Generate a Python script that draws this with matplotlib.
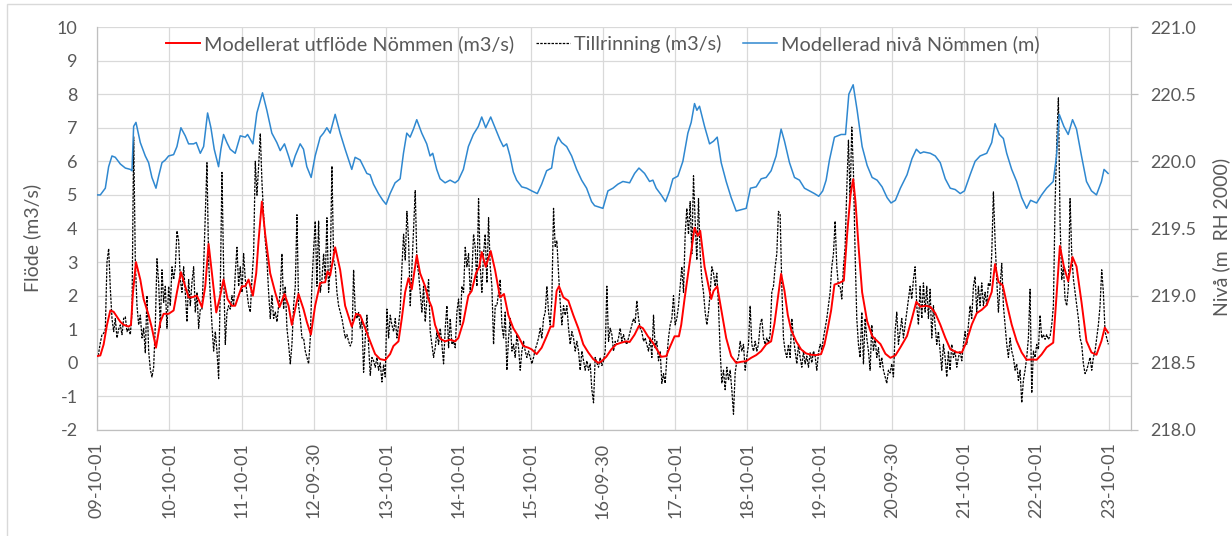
import numpy as np
import matplotlib
matplotlib.use('Agg')
import matplotlib.pyplot as plt
from matplotlib.patches import Rectangle

plt.rcParams['font.family'] = ['Lato', 'DejaVu Sans']
plt.rcParams['axes.unicode_minus'] = False

# x-axis labels (one per year, Excel style yy-mm-dd)
tick_labels = ['09-10-01', '10-10-01', '11-10-01', '12-09-30', '13-10-01',
               '14-10-01', '15-10-01', '16-09-30', '17-10-01', '18-10-01',
               '19-10-01', '20-09-30', '21-10-01', '22-10-01', '23-10-01']
start = np.datetime64('2009-10-01')

# Modellerad nivå Nömmen (m RH 2000), time in years after 2009-10-01
niva_t = [0.000, 0.046, 0.115, 0.161, 0.207, 0.253, 0.323, 0.392, 0.461, 0.484,
          0.507, 0.539, 0.599, 0.668, 0.714, 0.760, 0.816, 0.853, 0.899, 0.945,
          0.991, 1.060, 1.106, 1.161, 1.221, 1.267, 1.336, 1.373, 1.429, 1.475,
          1.530, 1.576, 1.622, 1.682, 1.714, 1.751, 1.797, 1.843, 1.912, 1.982,
          2.051, 2.083, 2.157, 2.212, 2.290, 2.350, 2.419, 2.488, 2.535, 2.594,
          2.650, 2.696, 2.742, 2.811, 2.857, 2.903, 2.963, 3.018, 3.088, 3.134,
          3.180, 3.226, 3.295, 3.364, 3.433, 3.525, 3.571, 3.641, 3.687, 3.733,
          3.779, 3.825, 3.894, 3.954, 4.000, 4.055, 4.124, 4.194, 4.240, 4.286,
          4.332, 4.378, 4.424, 4.493, 4.562, 4.608, 4.645, 4.700, 4.747, 4.816,
          4.885, 4.954, 5.000, 5.069, 5.138, 5.207, 5.276, 5.323, 5.378, 5.447,
          5.507, 5.576, 5.622, 5.668, 5.714, 5.760, 5.806, 5.876, 5.945, 6.014,
          6.092, 6.152, 6.221, 6.290, 6.336, 6.382, 6.429, 6.498, 6.567, 6.636,
          6.705, 6.774, 6.843, 6.885, 7.000, 7.069, 7.138, 7.207, 7.276, 7.369,
          7.438, 7.498, 7.576, 7.645, 7.691, 7.737, 7.806, 7.866, 7.922, 7.968,
          8.037, 8.106, 8.175, 8.221, 8.267, 8.300, 8.336, 8.406, 8.475, 8.530,
          8.581, 8.636, 8.705, 8.774, 8.843, 8.912, 8.982, 9.041, 9.120, 9.189,
          9.258, 9.327, 9.396, 9.465, 9.512, 9.581, 9.650, 9.719, 9.788, 9.857,
          9.926, 9.986, 10.041, 10.088, 10.134, 10.203, 10.295, 10.356, 10.402, 10.462,
          10.517, 10.586, 10.655, 10.724, 10.793, 10.862, 10.931, 10.986, 11.046, 11.115,
          11.207, 11.276, 11.336, 11.391, 11.437, 11.529, 11.598, 11.667, 11.736, 11.805,
          11.874, 11.943, 12.002, 12.080, 12.149, 12.218, 12.310, 12.379, 12.425, 12.485,
          12.540, 12.586, 12.655, 12.724, 12.793, 12.862, 12.917, 13.000, 13.069, 13.138,
          13.230, 13.276, 13.313, 13.377, 13.437, 13.497, 13.552, 13.621, 13.690, 13.759,
          13.828, 13.897, 13.933, 13.989]
niva = [219.75, 219.75, 219.80, 219.96, 220.04, 220.03, 219.98, 219.95, 219.94, 219.93,
        220.26, 220.29, 220.14, 220.04, 219.99, 219.88, 219.80, 219.89, 219.99, 220.01,
        220.04, 220.05, 220.11, 220.25, 220.19, 220.13, 220.13, 220.14, 220.06, 220.11,
        220.36, 220.25, 220.09, 219.96, 220.09, 220.20, 220.14, 220.09, 220.06, 220.19,
        220.18, 220.20, 220.13, 220.36, 220.51, 220.38, 220.21, 220.14, 220.08, 220.13,
        220.04, 219.96, 220.04, 220.13, 220.09, 219.96, 219.88, 220.04, 220.18, 220.21,
        220.25, 220.21, 220.35, 220.21, 220.09, 219.94, 220.03, 220.01, 219.96, 219.91,
        219.90, 219.83, 219.76, 219.71, 219.68, 219.76, 219.84, 219.87, 220.06, 220.21,
        220.18, 220.24, 220.31, 220.21, 220.13, 220.04, 220.06, 219.94, 219.87, 219.84,
        219.86, 219.84, 219.86, 219.94, 220.11, 220.20, 220.26, 220.33, 220.25, 220.33,
        220.25, 220.16, 220.11, 220.13, 220.04, 219.92, 219.86, 219.81, 219.80, 219.78,
        219.76, 219.83, 219.93, 219.95, 220.11, 220.18, 220.14, 220.11, 220.04, 219.94,
        219.86, 219.80, 219.70, 219.67, 219.65, 219.78, 219.80, 219.83, 219.85, 219.84,
        219.91, 219.95, 219.91, 219.85, 219.86, 219.80, 219.75, 219.70, 219.78, 219.87,
        219.89, 220.00, 220.21, 220.29, 220.43, 220.38, 220.41, 220.26, 220.13, 220.15,
        220.18, 219.99, 219.85, 219.73, 219.63, 219.64, 219.65, 219.80, 219.81, 219.87,
        219.88, 219.93, 220.04, 220.24, 220.15, 219.99, 219.88, 219.86, 219.80, 219.78,
        219.76, 219.74, 219.78, 219.86, 220.01, 220.18, 220.20, 220.20, 220.50, 220.57,
        220.38, 220.11, 219.97, 219.88, 219.86, 219.81, 219.73, 219.69, 219.71, 219.80,
        219.90, 220.02, 220.09, 220.06, 220.07, 220.06, 220.04, 219.99, 219.87, 219.80,
        219.79, 219.76, 219.78, 219.90, 220.00, 220.04, 220.06, 220.14, 220.28, 220.20,
        220.17, 220.06, 219.94, 219.85, 219.73, 219.65, 219.71, 219.69, 219.75, 219.80,
        219.85, 220.04, 220.35, 220.26, 220.20, 220.31, 220.24, 220.04, 219.85, 219.78,
        219.75, 219.85, 219.94, 219.91]

# Modellerat utflöde Nömmen (m3/s), time in years after 2009-10-01
utflode_t = [0.000, 0.046, 0.092, 0.138, 0.184, 0.230, 0.276, 0.323, 0.369, 0.438,
             0.470, 0.498, 0.539, 0.599, 0.645, 0.714, 0.760, 0.816, 0.876, 0.922,
             0.991, 1.060, 1.106, 1.161, 1.221, 1.267, 1.313, 1.382, 1.452, 1.498,
             1.544, 1.590, 1.650, 1.705, 1.751, 1.806, 1.866, 1.912, 1.959, 2.005,
             2.051, 2.097, 2.157, 2.203, 2.235, 2.281, 2.327, 2.396, 2.465, 2.525,
             2.594, 2.650, 2.696, 2.742, 2.788, 2.857, 2.903, 2.959, 3.018, 3.088,
             3.157, 3.189, 3.226, 3.295, 3.364, 3.433, 3.525, 3.585, 3.641, 3.710,
             3.779, 3.848, 3.917, 3.986, 4.055, 4.101, 4.171, 4.217, 4.263, 4.309,
             4.355, 4.424, 4.470, 4.539, 4.585, 4.631, 4.677, 4.747, 4.816, 4.885,
             4.954, 5.000, 5.069, 5.138, 5.184, 5.244, 5.290, 5.323, 5.378, 5.447,
             5.507, 5.576, 5.631, 5.691, 5.760, 5.829, 5.899, 5.968, 6.014, 6.083,
             6.152, 6.221, 6.276, 6.313, 6.359, 6.392, 6.452, 6.521, 6.590, 6.659,
             6.728, 6.797, 6.866, 6.935, 6.977, 7.046, 7.115, 7.184, 7.253, 7.323,
             7.369, 7.438, 7.498, 7.553, 7.622, 7.691, 7.760, 7.806, 7.876, 7.922,
             7.991, 8.051, 8.083, 8.129, 8.198, 8.267, 8.313, 8.346, 8.406, 8.465,
             8.498, 8.530, 8.581, 8.636, 8.705, 8.774, 8.843, 8.912, 8.982, 9.051,
             9.120, 9.189, 9.258, 9.327, 9.373, 9.419, 9.465, 9.512, 9.558, 9.604,
             9.673, 9.742, 9.811, 9.880, 9.949, 10.018, 10.065, 10.111, 10.157, 10.203,
             10.272, 10.333, 10.379, 10.425, 10.462, 10.494, 10.540, 10.586, 10.655, 10.724,
             10.770, 10.839, 10.908, 10.977, 11.046, 11.115, 11.207, 11.276, 11.336, 11.391,
             11.460, 11.529, 11.598, 11.667, 11.736, 11.805, 11.897, 11.966, 12.025, 12.103,
             12.172, 12.241, 12.310, 12.379, 12.425, 12.471, 12.531, 12.586, 12.655, 12.724,
             12.793, 12.862, 12.931, 13.000, 13.069, 13.138, 13.230, 13.276, 13.322, 13.377,
             13.437, 13.497, 13.552, 13.621, 13.690, 13.759, 13.828, 13.897, 13.943, 13.989]
utflode = [0.20, 0.22, 0.55, 1.13, 1.56, 1.52, 1.37, 1.22, 1.13, 1.08,
           1.13, 2.10, 3.00, 2.48, 1.90, 1.42, 1.03, 0.45, 1.22, 1.46,
           1.46, 1.56, 2.10, 2.70, 2.28, 1.95, 1.95, 2.00, 1.66, 2.28,
           3.54, 2.67, 1.50, 2.00, 2.48, 1.90, 1.70, 1.70, 2.00, 2.28,
           2.28, 2.48, 2.00, 2.67, 3.63, 4.80, 3.83, 2.67, 2.10, 1.66,
           2.05, 1.70, 1.13, 1.60, 2.05, 1.60, 1.22, 0.84, 1.70, 2.38,
           2.40, 2.72, 2.60, 3.44, 2.77, 1.70, 1.08, 1.46, 1.42, 1.03,
           0.64, 0.26, 0.11, 0.08, 0.26, 0.50, 0.64, 1.32, 2.10, 2.52,
           2.19, 3.20, 2.67, 2.28, 1.90, 1.66, 1.13, 0.72, 0.64, 0.69,
           0.64, 0.74, 1.22, 2.00, 2.14, 2.67, 2.86, 3.30, 2.86, 3.33,
           2.77, 1.95, 2.05, 1.42, 1.03, 0.79, 0.50, 0.45, 0.40, 0.26,
           0.45, 0.79, 1.08, 1.08, 2.14, 2.28, 1.95, 1.85, 1.42, 1.03,
           0.55, 0.31, 0.11, 0.00, 0.04, 0.18, 0.40, 0.55, 0.60, 0.64,
           0.62, 0.84, 1.10, 1.03, 0.79, 0.60, 0.35, 0.18, 0.20, 0.45,
           0.79, 0.79, 1.13, 1.90, 2.96, 4.02, 3.78, 3.93, 2.86, 2.24,
           1.90, 2.14, 2.28, 1.60, 0.74, 0.20, 0.00, 0.03, 0.05, 0.15,
           0.23, 0.35, 0.55, 0.64, 1.17, 1.90, 2.65, 2.14, 1.42, 0.98,
           0.64, 0.40, 0.28, 0.24, 0.23, 0.26, 0.55, 1.03, 1.56, 2.33,
           2.38, 2.45, 3.84, 5.00, 5.47, 4.80, 3.36, 2.10, 1.24, 0.80,
           0.70, 0.56, 0.27, 0.15, 0.22, 0.46, 0.80, 1.33, 1.82, 1.67,
           1.70, 1.67, 1.48, 1.14, 0.75, 0.41, 0.31, 0.31, 0.60, 1.14,
           1.48, 1.58, 1.72, 2.11, 2.94, 2.41, 2.31, 1.77, 1.14, 0.65,
           0.31, 0.09, 0.10, 0.09, 0.25, 0.46, 0.60, 2.01, 3.48, 2.87,
           2.43, 3.15, 2.87, 1.81, 0.65, 0.31, 0.24, 0.65, 1.05, 0.90]

# Tillrinning (m3/s), read every ~8.4 days from 2009-10-01
tillrinning_step_days = 8.42
tillrinning = [
    # 2009-10 .. 2013-05
    0.11, 0.30, 0.60, 0.84, 0.88, 1.00, 3.00, 3.40, 2.20, 1.32,
    0.93, 1.32, 0.74, 1.00, 1.13, 0.84, 1.32, 1.37, 0.93, 1.03,
    0.84, 1.50, 6.73, 3.00, 1.70, 1.13, 1.42, 0.74, 1.03, 0.30,
    2.00, 0.35, -0.20, -0.42, -0.13, 1.13, 3.10, 2.38, 1.03, 2.77,
    1.80, 2.28, 1.03, 2.28, 1.70, 2.86, 2.48, 2.86, 3.93, 3.64,
    2.48, 2.10, 2.86, 2.10, 1.22, 2.48, 1.70, 2.40, 2.86, 1.51,
    2.10, 1.03, 1.60, 1.60, 2.86, 4.41, 5.96, 3.00, 2.00, 1.13,
    0.35, 0.93, 0.35, -0.47, 2.28, 5.67, 2.77, 0.55, 1.51, 1.70,
    1.60, 2.00, 1.70, 2.67, 3.44, 2.28, 2.86, 2.10, 3.25, 2.48,
    2.10, 1.70, 1.51, 2.50, 3.25, 6.00, 4.99, 5.86, 6.83, 5.38,
    4.41, 3.64, 3.06, 2.10, 1.32, 2.00, 1.32, 1.51, 1.22, 1.70,
    2.10, 3.25, 1.60, 2.28, 1.03, 0.55, -0.03, 0.55, 1.70, 2.28,
    4.41, 1.70, 1.32, 0.74, 0.74, 0.35, 0.16, -0.03, 0.74, 2.38,
    3.35, 4.22, 2.28, 4.22, 2.10, 2.48, 3.25, 2.48, 4.32, 2.10,
    2.86, 5.86, 3.06, 2.86, 2.10, 1.70,
    # 2013-02 .. 2016-08
    1.51, 1.32, 1.03, 0.74, 0.84, 0.64, 0.50, 0.64, 2.77, 1.51,
    1.32, 1.50, 1.03, 1.30, -0.28, 0.74, 1.42, 0.55, -0.37, 0.16,
    0.06, -0.13, 0.16, -0.22, 0.00, -0.57, -0.05, -0.42, 1.60, 0.74,
    1.42, 1.13, 0.93, 1.32, 0.74, 1.13, 1.60, 2.86, 3.83, 3.06,
    4.51, 3.64, 1.70, 2.86, 4.03, 5.13, 3.00, 2.67, 2.10, 1.51,
    2.28, 1.22, 1.90, 2.48, 0.93, 0.55, 0.16, 0.45, 0.93, 0.55,
    1.03, 0.55, -0.03, 1.03, 1.70, 0.45, 1.32, 0.55, 0.64, 0.45,
    1.51, 1.90, 1.13, 2.28, 2.10, 3.44, 2.86, 3.25, 2.10, 2.67,
    3.83, 3.44, 2.28, 4.89, 2.86, 2.10, 3.25, 3.83, 2.38, 4.32,
    2.86, 2.28, 0.55, 1.70, 1.70, 2.10, 2.48, 1.13, 0.74, 1.51,
    -0.22, 0.74, 1.32, 0.35, 0.55, 0.16, 0.84, 0.45, -0.22, 0.35,
    0.64, 0.35, 0.16, 0.35, 0.16, -0.03, 0.16, 0.40, 0.55, 0.74,
    1.03, 0.74, 1.32, 1.51, 2.28, 1.51, 1.13, 1.90, 4.60, 3.44,
    3.64, 2.67, 1.80, 1.13, 1.70, 1.42, 1.70, 1.03, 0.55, 0.93,
    0.74, 0.35, 0.64, 0.35, -0.22, 0.35, 0.06, -0.22, 0.06, -0.22,
    # 2016-08 .. 2020-02
    -0.03, -0.80, -1.19, 0.16, 0.00, -0.13, 0.16, -0.08, 0.06, 0.35,
    2.28, 0.64, 1.03, 0.84, 0.35, 0.64, 0.55, 0.74, 1.03, 0.64,
    0.84, 0.64, 0.55, 0.74, 0.93, 1.13, 1.32, 1.20, 1.85, 1.32,
    1.03, 0.93, 0.64, 0.74, 0.55, 0.35, 0.74, 0.16, 1.42, 0.45,
    0.64, 0.06, 0.35, -0.61, -0.32, -0.61, 0.16, 0.74, 1.13, 1.32,
    2.00, 1.13, 1.32, 1.70, 2.28, 2.86, 2.10, 3.83, 4.60, 3.83,
    4.80, 3.25, 5.57, 4.22, 3.06, 4.89, 3.25, 2.48, 2.10, 1.51,
    1.13, 1.51, 2.10, 2.86, 2.67, 2.28, 2.67, 1.70, 0.35, -0.61,
    -0.22, -0.80, -0.13, -0.52, -0.22, -0.80, -1.53, -0.30, 0.06, 0.16,
    0.64, 0.35, 0.55, -0.22, 0.16, 0.55, 1.70, 0.55, 0.35, 0.64,
    0.35, 0.55, 1.13, 1.32, 0.74, 0.55, 0.74, 0.60, 0.84, 2.10,
    2.28, 2.86, 3.25, 4.51, 4.41, 2.28, 0.74, 0.35, 0.16, 0.55,
    0.16, 1.32, 0.74, 0.35, -0.03, 0.55, 0.16, -0.13, 0.35, -0.03,
    0.20, -0.13, 0.30, 0.00, 0.35, 0.20, -0.22, 0.30, 0.55, 0.40,
    0.74, 1.03, 1.32, 1.70, 2.10, 2.86, 3.25, 4.22, 2.86, 2.28,
    # 2019-09 .. 2023-10
    2.28, 1.90, 2.86, 3.44, 5.18, 6.63, 4.89, 7.02, 5.67, 3.25,
    1.32, 0.55, 0.16, 1.51, -0.03, 1.32, 0.74, 0.35, -0.22, 1.13,
    0.35, 0.74, 0.16, 0.45, -0.13, 0.16, -0.22, -0.42, -0.61, -0.22,
    -0.30, -0.03, -0.42, 0.93, 1.51, 0.55, 0.93, 1.32, 0.74, 1.13,
    1.51, 1.90, 2.28, 1.90, 2.48, 2.86, 1.70, 1.13, 2.28, 1.32,
    2.38, 1.51, 2.28, 1.32, 2.19, 0.74, 1.70, 1.13, 0.55, 0.93,
    0.35, -0.22, 0.55, 0.16, -0.42, 0.35, -0.22, 0.55, 0.16, 0.35,
    -0.13, 0.16, 0.35, 0.06, 0.55, 0.93, 0.55, 1.13, 1.70, 1.32,
    2.28, 2.57, 1.51, 2.28, 1.70, 2.38, 1.70, 2.10, 1.70, 2.38,
    2.28, 3.25, 5.09, 3.64, 2.48, 1.51, 2.28, 2.96, 1.70, 1.13,
    0.55, 0.16, 0.74, 0.35, 0.16, -0.22, -0.03, -0.52, -0.22, -1.19,
    -0.52, -0.22, 0.16, 0.74, 2.19, -0.90, 0.35, 0.16, 0.55, 0.40,
    1.42, 0.74, 0.84, 0.70, 0.84, 0.70, 0.79, 1.13, 1.70, 4.70,
    6.54, 7.89, 4.20, 2.48, 2.86, 1.90, 1.70, 2.28, 4.89, 3.25,
    2.50, 2.10, 1.70, 1.32, 0.74, 0.55, -0.03, -0.32, -0.22, -0.03,
    0.16, -0.22, 0.16, 0.35, 0.74, 1.13, 1.70, 2.77, 2.10, 0.93,
    0.74, 0.55]

series_labels = ['Modellerat utflöde Nömmen (m3/s)', 'Tillrinning (m3/s)',
                 'Modellerad nivå Nömmen (m)']


def years_to_dates(t):
    hours = np.round(np.asarray(t) * 365.25 * 24).astype(int)
    return start + hours.astype('timedelta64[h]')


niva_dates = years_to_dates(niva_t)
utflode_dates = years_to_dates(utflode_t)
till_hours = np.round(np.arange(len(tillrinning)) * tillrinning_step_days * 24).astype(int)
till_dates = start + till_hours.astype('timedelta64[h]')
tick_dates = years_to_dates(np.arange(len(tick_labels)))

text_col = '#595959'
grid_col = '#d9d9d9'

fig = plt.figure(figsize=(12.32, 5.36), dpi=100)
W, H = 1232, 536
ax = fig.add_axes([97 / W, 1 - 430 / H, (1131 - 97) / W, (430 - 27) / H])
ax2 = ax.twinx()

l_till, = ax.plot(till_dates, tillrinning, color='black', lw=0.9,
                  linestyle=(0, (2, 1)), zorder=2)
l_ut, = ax.plot(utflode_dates, utflode, color='#ff0000', lw=1.4, zorder=3)
l_niva, = ax2.plot(niva_dates, niva, color='#2f88d0', lw=1.1, zorder=3)

ax.set_xlim(start, years_to_dates(14.306))
ax.set_ylim(-2, 10)
ax.set_yticks(range(-2, 11))
ax2.set_ylim(218, 221)
ax2.set_yticks(np.arange(218, 221.01, 0.5))
ax2.set_yticklabels([f'{v:.1f}' for v in np.arange(218, 221.01, 0.5)])

ax.set_xticks(tick_dates)
ax.set_xticklabels(tick_labels, rotation=90)

ax.grid(True, color=grid_col, lw=0.9, zorder=0)
ax.set_axisbelow(True)

for a in (ax, ax2):
    a.spines['top'].set_visible(False)
    for s in ('left', 'right', 'bottom'):
        a.spines[s].set_color('#bfbfbf')
        a.spines[s].set_linewidth(0.9)
ax.spines['right'].set_visible(False)
ax2.spines['left'].set_visible(False)
ax2.spines['bottom'].set_visible(False)

ax.tick_params(axis='y', length=0, pad=14, labelsize=13, labelcolor=text_col)
ax.tick_params(axis='x', length=0, pad=9, labelsize=13, labelcolor=text_col)
ax2.tick_params(axis='y', length=5, width=0.9, color='#bfbfbf', pad=9,
                labelsize=13, labelcolor=text_col)

fig.text(32 / W, 1 - 238 / H, 'Flöde (m3/s)', rotation=90, ha='center',
         va='center', fontsize=14, color=text_col)
fig.text(1221 / W, 1 - 237 / H, 'Nivå (m  RH 2000)', rotation=90, ha='center',
         va='center', fontsize=14, color=text_col)

ax2.legend([l_ut, l_till, l_niva], series_labels, loc='center',
           bbox_to_anchor=(603 / W, 1 - 44 / H), bbox_transform=fig.transFigure,
           ncol=3, frameon=False, fontsize=14.3, handlelength=1.7,
           handletextpad=0.2, columnspacing=1.1, labelcolor=text_col)

fig.patches.append(Rectangle((7 / W, -0.1), 1.2, 1.1 - 4 / H, transform=fig.transFigure,
                             fill=False, edgecolor=grid_col, lw=1.0))

fig.savefig('out.png', dpi=100)
